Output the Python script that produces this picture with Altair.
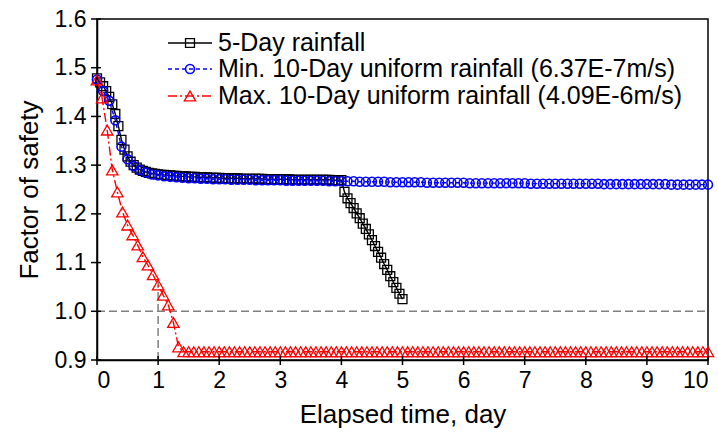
import altair as alt
import pandas as pd

# Output interval of each simulation (days)
STEP_5DAY = 0.05
STEP_MIN10 = 0.1
STEP_MAX10 = 1 / 12

SERIES = [
    "5-Day rainfall",
    "Min. 10-Day uniform rainfall (6.37E-7m/s)",
    "Max. 10-Day uniform rainfall (4.09E-6m/s)",
]

# Factor of safety, 5-day rainfall (t = 0 .. 5 days)
fs_5day = [
    1.478, 1.470, 1.462, 1.452, 1.440, 1.425, 1.405, 1.380, 1.352, 1.332,
    1.318, 1.307, 1.300, 1.295, 1.291, 1.288, 1.286, 1.284, 1.283, 1.282,
    1.281,
    1.280, 1.280, 1.279, 1.279, 1.278, 1.278, 1.277, 1.277, 1.277, 1.276,
    1.276, 1.276, 1.275, 1.275, 1.275, 1.275, 1.274, 1.274, 1.274, 1.274,
    1.273, 1.273, 1.273, 1.273, 1.273, 1.273, 1.272, 1.272, 1.272, 1.272,
    1.272, 1.272, 1.272, 1.272, 1.271, 1.271, 1.271, 1.271, 1.271, 1.271,
    1.271, 1.271, 1.271, 1.270, 1.270, 1.270, 1.270, 1.270, 1.270, 1.270,
    1.270, 1.270, 1.270, 1.270, 1.270, 1.270, 1.269, 1.269, 1.269, 1.269,
    1.245, 1.232, 1.222, 1.212, 1.201, 1.191, 1.180, 1.169, 1.158, 1.146,
    1.134, 1.122, 1.110, 1.097, 1.085, 1.072, 1.060, 1.048, 1.036, 1.025,
]

# Factor of safety, minimum 10-day uniform rainfall (t = 0 .. 10 days)
fs_min10 = [
    1.476, 1.452, 1.432, 1.392, 1.338, 1.312, 1.298, 1.290, 1.285, 1.281,
    1.279,
    1.277, 1.276, 1.275, 1.274, 1.273, 1.273, 1.272, 1.272, 1.271, 1.271,
    1.271, 1.270, 1.270, 1.270, 1.270, 1.269, 1.269, 1.269, 1.269, 1.269,
    1.268, 1.268, 1.268, 1.268, 1.268, 1.268, 1.268, 1.267, 1.267, 1.267,
    1.267, 1.267, 1.266, 1.266, 1.266, 1.266, 1.266, 1.265, 1.265, 1.265,
    1.265, 1.265, 1.265, 1.264, 1.264, 1.264, 1.264, 1.264, 1.264, 1.264,
    1.263, 1.263, 1.263, 1.263, 1.263, 1.263, 1.263, 1.263, 1.263, 1.263,
    1.262, 1.262, 1.262, 1.262, 1.262, 1.262, 1.262, 1.262, 1.262, 1.262,
    1.262, 1.262, 1.261, 1.261, 1.261, 1.261, 1.261, 1.261, 1.261, 1.261,
    1.261, 1.261, 1.261, 1.260, 1.260, 1.260, 1.260, 1.260, 1.260, 1.260,
]

# Factor of safety, maximum 10-day uniform rainfall (t = 0 .. 10 days)
fs_max10 = [
    1.475, 1.438, 1.372, 1.290, 1.245, 1.204, 1.177, 1.157, 1.136, 1.112,
    1.095, 1.075, 1.054, 1.033, 1.013, 0.977, 0.927,
    # steady state after the slope has failed (days 1.42 .. 10)
    0.917, 0.917, 0.917, 0.917, 0.917, 0.917, 0.917, 0.917,
    0.917, 0.917, 0.917, 0.917, 0.917, 0.917, 0.917, 0.917,
    0.917, 0.917, 0.917, 0.917, 0.917, 0.917, 0.917, 0.917,
    0.917, 0.917, 0.917, 0.917, 0.917, 0.917, 0.917, 0.917,
    0.917, 0.917, 0.917, 0.917, 0.917, 0.917, 0.917, 0.917,
    0.917, 0.917, 0.917, 0.917, 0.917, 0.917, 0.917, 0.917,
    0.917, 0.917, 0.917, 0.917, 0.917, 0.917, 0.917, 0.917,
    0.917, 0.917, 0.917, 0.917, 0.917, 0.917, 0.917, 0.917,
    0.917, 0.917, 0.917, 0.917, 0.917, 0.917, 0.917, 0.917,
    0.917, 0.917, 0.917, 0.917, 0.917, 0.917, 0.917, 0.917,
    0.917, 0.917, 0.917, 0.917, 0.917, 0.917, 0.917, 0.917,
    0.917, 0.917, 0.917, 0.917, 0.917, 0.917, 0.917, 0.917,
    0.917, 0.917, 0.917, 0.917, 0.917, 0.917, 0.917, 0.917,
]

x_ticks = [0, 1, 2, 3, 4, 5, 6, 7, 8, 9, 10]
y_ticks = [0.9, 1.0, 1.1, 1.2, 1.3, 1.4, 1.5, 1.6]

FS_LIMIT = 1.0          # limit-equilibrium line
LIMIT_DAY = 1.0         # day when the max. rainfall case reaches FS = 1
LIMIT_MARK_TOP = 1.06

FONT = "Liberation Sans"
W, H = 611, 341


def series_frame(values, step, name):
    return pd.DataFrame({
        "day": [i * step for i in range(len(values))],
        "fs": values,
        "series": name,
    })


x_scale = alt.Scale(domain=[0, 10], nice=False, zero=False)
y_scale = alt.Scale(domain=[0.9, 1.6], nice=False, zero=False)


def X(field="day"):
    return alt.X(f"{field}:Q", scale=x_scale, title="Elapsed time, day",
                 axis=alt.Axis(values=x_ticks, format="d", ticks=False, grid=False,
                               labelPadding=9, titlePadding=9))


def Y(field="fs"):
    return alt.Y(f"{field}:Q", scale=y_scale, title="Factor of safety",
                 axis=alt.Axis(values=y_ticks, format=".1f", ticks=False, grid=False,
                               labelPadding=11, titlePadding=12))


styles = [
    dict(color="black", dash=[1, 0], shape="square", size=80, sw=1.3),
    dict(color="#0000ff", dash=[4, 3], shape="circle", size=80, sw=1.6),
    dict(color="#ff0000", dash=[9, 3, 2, 3], shape="triangle-up", size=130, sw=1.3),
]
frames = [
    series_frame(fs_5day, STEP_5DAY, SERIES[0]),
    series_frame(fs_min10, STEP_MIN10, SERIES[1]),
    series_frame(fs_max10, STEP_MAX10, SERIES[2]),
]

layers = []

# grey dashed guide lines at FS = 1.0 and day 1
h_guide = pd.DataFrame({"day": [0], "day2": [10], "fs": [FS_LIMIT]})
v_guide = pd.DataFrame({"day": [LIMIT_DAY], "fs": [0.9], "fs2": [LIMIT_MARK_TOP]})
layers.append(alt.Chart(h_guide).mark_rule(color="#808080", strokeWidth=1.5, strokeDash=[8, 4])
              .encode(x=X(), x2="day2:Q", y=Y()))
layers.append(alt.Chart(v_guide).mark_rule(color="#808080", strokeWidth=1.5, strokeDash=[8, 4])
              .encode(x=X(), y=Y(), y2="fs2:Q"))

for df, st in zip(frames, styles):
    base = alt.Chart(df)
    layers.append(base.mark_line(color=st["color"], strokeWidth=1.4, strokeDash=st["dash"])
                  .encode(x=X(), y=Y()))
    layers.append(base.mark_point(shape=st["shape"], size=st["size"], filled=False,
                                  color=st["color"], strokeWidth=st["sw"], opacity=1)
                  .encode(x=X(), y=Y()))

# tick marks crossing the axis lines
xt = pd.DataFrame({"day": x_ticks})
yt = pd.DataFrame({"fs": y_ticks})
layers.append(alt.Chart(xt).mark_rule(color="black", strokeWidth=1.5)
              .encode(x=X(), y=alt.value(H - 4), y2=alt.value(H + 5)))
layers.append(alt.Chart(yt).mark_rule(color="black", strokeWidth=1.5)
              .encode(y=Y(), x=alt.value(-6), x2=alt.value(4)))

# legend
leg_rows = [24, 50, 77]
for name, st, ry in zip(SERIES, styles, leg_rows):
    ld = pd.DataFrame({"series": [name]})
    lb = alt.Chart(ld)
    layers.append(lb.mark_rule(color=st["color"], strokeWidth=1.4, strokeDash=st["dash"])
                  .encode(x=alt.value(71), x2=alt.value(115), y=alt.value(ry)))
    layers.append(lb.mark_point(shape=st["shape"], size=st["size"], filled=False,
                                color=st["color"], strokeWidth=st["sw"], opacity=1)
                  .encode(x=alt.value(93), y=alt.value(ry)))
    layers.append(lb.mark_text(align="left", baseline="middle", font=FONT, fontSize=25,
                               color="black")
                  .encode(x=alt.value(121), y=alt.value(ry), text="series:N"))

chart = alt.layer(*layers).properties(
    width=W, height=H,
    autosize=alt.AutoSizeParams(type="none"),
    padding={"left": 97, "top": 19, "right": 10, "bottom": 73},
).configure_view(
    stroke="black", strokeWidth=1.5
).configure_axis(
    domainColor="black", domainWidth=1.5,
    labelFont=FONT, labelFontSize=23, labelColor="black",
    titleFont=FONT, titleFontSize=26, titleFontWeight="normal", titleColor="black",
)

chart.save("out.html", embed_options={"renderer": "svg", "actions": False})
